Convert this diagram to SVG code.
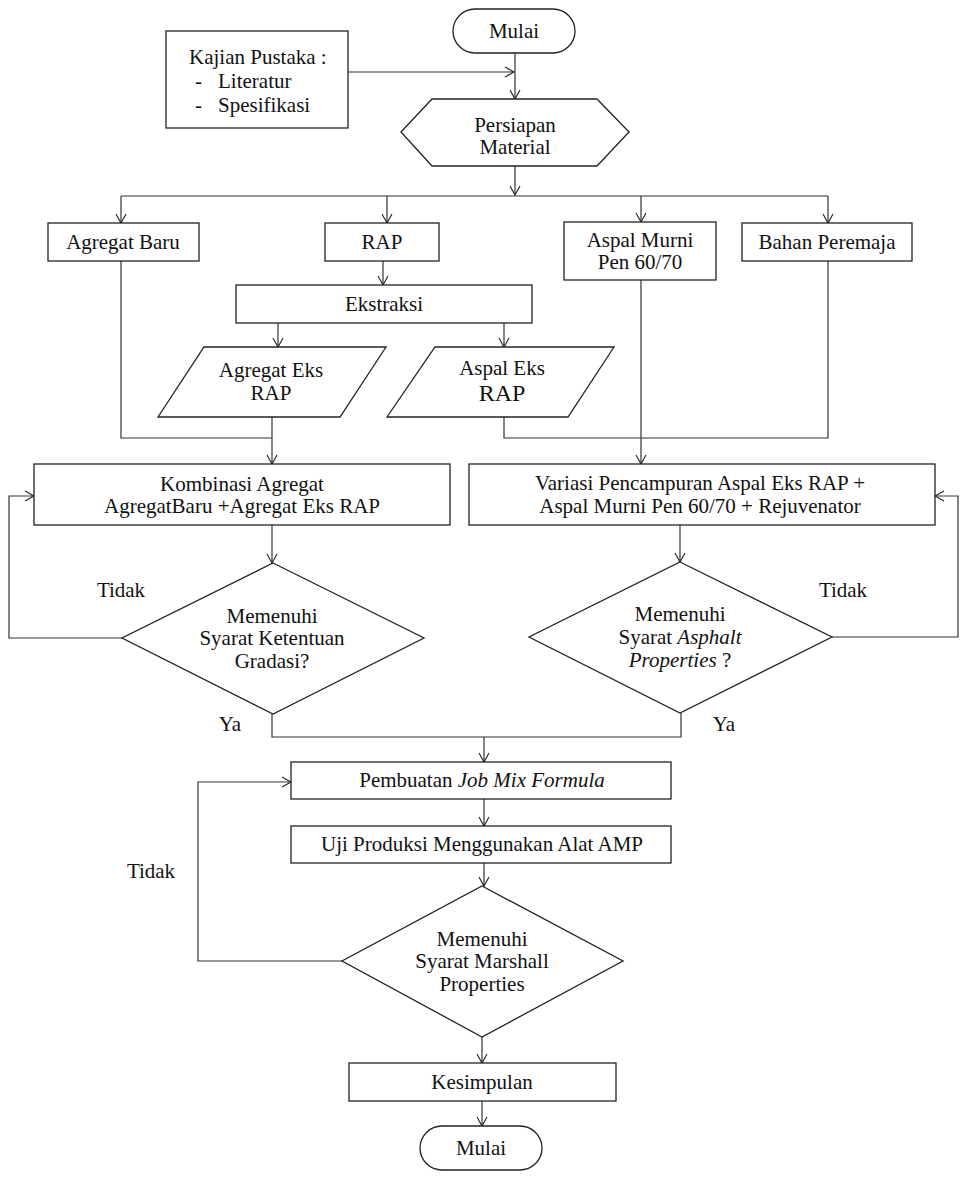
<svg xmlns="http://www.w3.org/2000/svg" width="963" height="1187" viewBox="0 0 963 1187">
<defs>
<marker id="arr" markerUnits="userSpaceOnUse" viewBox="-10 -6 12 12" refX="0" refY="0" markerWidth="12" markerHeight="12" orient="auto">
<path d="M-9,-5 L0,0 L-9,5" fill="none" stroke="#222" stroke-width="1.1"/>
</marker>
</defs>
<style>
.s{fill:#fff;stroke:#222;stroke-width:1.3}
.c{fill:none;stroke:#333;stroke-width:1.2}
.a{marker-end:url(#arr)}
.m{text-anchor:middle}
.i{font-style:italic}
</style>
<rect width="963" height="1187" fill="#fff"/>
<g id="connectors">
<path class="c a" d="M348,72 H514"/>
<path class="c a" d="M515,53 V99"/>
<path class="c a" d="M515,166 V195"/>
<path class="c" d="M121,196 H828"/>
<path class="c a" d="M121,196 V223"/>
<path class="c a" d="M387,196 V223"/>
<path class="c a" d="M641,196 V222"/>
<path class="c a" d="M828,196 V223"/>
<path class="c a" d="M383,261 V285"/>
<path class="c a" d="M278,323 V347"/>
<path class="c a" d="M504,323 V347"/>
<path class="c" d="M121,261 V438 H272"/>
<path class="c a" d="M272,417 V464"/>
<path class="c" d="M504,417 V438 H828 V261"/>
<path class="c a" d="M641,280 V464"/>
<path class="c a" d="M272,525 V563"/>
<path class="c a" d="M680,525 V562"/>
<path class="c a" d="M122,638 H9 V496 H34"/>
<path class="c a" d="M832,637 H958 V496 H935"/>
<path class="c" d="M272,714 V737 H681 V713"/>
<path class="c a" d="M484,737 V762"/>
<path class="c a" d="M484,799 V826"/>
<path class="c a" d="M484,863 V886"/>
<path class="c a" d="M342,961 H198 V782 H291"/>
<path class="c a" d="M482,1037 V1063"/>
<path class="c a" d="M482,1101 V1126"/>
</g>
<g font-family="Liberation Serif, serif" font-size="21" fill="#111">
<g id="start">
<rect class="s" x="453" y="9" width="122" height="44" rx="22"/>
<text class="m" x="514" y="38">Mulai</text>
</g>
<g id="kajian">
<rect class="s" x="166" y="31" width="182" height="97"/>
<text x="189" y="64">Kajian Pustaka :</text>
<text x="195" y="88">-</text>
<text x="218" y="88">Literatur</text>
<text x="195" y="112">-</text>
<text x="218" y="112">Spesifikasi</text>
</g>
<g id="persiapan">
<polygon class="s" points="401,132 432,99 597,99 629,132 597,166 432,166"/>
<text class="m" x="515" y="132">Persiapan</text>
<text class="m" x="515" y="154">Material</text>
</g>
<g id="agregat-baru">
<rect class="s" x="48" y="223" width="151" height="38"/>
<text class="m" x="123" y="249">Agregat Baru</text>
</g>
<g id="rap">
<rect class="s" x="325" y="223" width="114" height="38"/>
<text class="m" x="382" y="249">RAP</text>
</g>
<g id="aspal-murni">
<rect class="s" x="564" y="222" width="152" height="58"/>
<text class="m" x="640" y="247">Aspal Murni</text>
<text class="m" x="640" y="269">Pen 60/70</text>
</g>
<g id="bahan-peremaja">
<rect class="s" x="742" y="223" width="170" height="38"/>
<text class="m" x="827" y="249">Bahan Peremaja</text>
</g>
<g id="ekstraksi">
<rect class="s" x="236" y="285" width="296" height="38"/>
<text class="m" x="384" y="311">Ekstraksi</text>
</g>
<g id="agregat-eks">
<polygon class="s" points="204,347 386,347 340,417 158,417"/>
<text class="m" x="271" y="377">Agregat Eks</text>
<text class="m" x="271" y="400">RAP</text>
</g>
<g id="aspal-eks">
<polygon class="s" points="435,347 614,347 568,417 387,417"/>
<text class="m" x="502" y="375">Aspal Eks</text>
<text class="m" x="502" y="401" font-size="24">RAP</text>
</g>
<g id="kombinasi">
<rect class="s" x="34" y="464" width="416" height="61"/>
<text class="m" x="242" y="491">Kombinasi Agregat</text>
<text class="m" x="242" y="513">AgregatBaru +Agregat Eks RAP</text>
</g>
<g id="variasi">
<rect class="s" x="469" y="464" width="466" height="61"/>
<text class="m" x="700" y="490">Variasi Pencampuran Aspal Eks RAP +</text>
<text class="m" x="700" y="513">Aspal Murni Pen 60/70 + Rejuvenator</text>
</g>
<g id="cek-gradasi">
<polygon class="s" points="273,563 424,638 273,714 122,638"/>
<text class="m" x="272" y="623">Memenuhi</text>
<text class="m" x="272" y="645">Syarat Ketentuan</text>
<text class="m" x="272" y="668">Gradasi?</text>
</g>
<g id="cek-aspal">
<polygon class="s" points="680,562 832,637 680,713 529,637"/>
<text class="m" x="680" y="621">Memenuhi</text>
<text class="m" x="680" y="644">Syarat <tspan class="i">Asphalt</tspan></text>
<text class="m" x="680" y="667"><tspan class="i">Properties</tspan> ?</text>
</g>
<g id="labels">
<text class="m" x="121" y="597">Tidak</text>
<text class="m" x="843" y="597">Tidak</text>
<text class="m" x="230" y="731">Ya</text>
<text class="m" x="724" y="731">Ya</text>
<text class="m" x="151" y="878">Tidak</text>
</g>
<g id="jmf">
<rect class="s" x="291" y="762" width="380" height="37"/>
<text class="m" x="482" y="787">Pembuatan <tspan class="i">Job Mix Formula</tspan></text>
</g>
<g id="uji">
<rect class="s" x="291" y="826" width="380" height="37"/>
<text class="m" x="482" y="851">Uji Produksi Menggunakan Alat AMP</text>
</g>
<g id="cek-marshall">
<polygon class="s" points="482,886 623,961 482,1037 342,961"/>
<text class="m" x="482" y="946">Memenuhi</text>
<text class="m" x="482" y="968">Syarat Marshall</text>
<text class="m" x="482" y="991">Properties</text>
</g>
<g id="kesimpulan">
<rect class="s" x="349" y="1063" width="267" height="38"/>
<text class="m" x="482" y="1089">Kesimpulan</text>
</g>
<g id="end">
<rect class="s" x="420" y="1126" width="122" height="44" rx="22"/>
<text class="m" x="481" y="1155">Mulai</text>
</g>
</g>
</svg>
